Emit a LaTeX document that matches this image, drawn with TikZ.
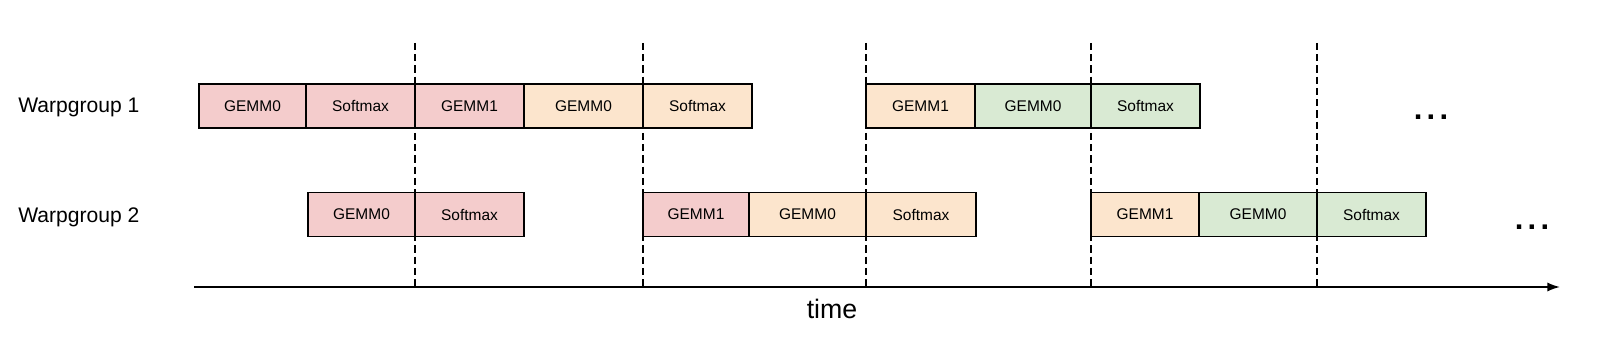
\documentclass[tikz,border=0pt]{standalone}
\usepackage{fontspec}
\setmainfont{Liberation Sans}
\definecolor{wgred}{HTML}{F4CCCC}
\definecolor{wgorange}{HTML}{FCE5CD}
\definecolor{wggreen}{HTML}{D9EAD3}
\usetikzlibrary{positioning,arrows.meta}

\begin{document}
\begin{tikzpicture}[
    x=0.025cm, y=-0.025cm,
    op/.style={draw, line width=0.9pt, outer sep=0pt, inner sep=0pt,
               minimum height=1.1cm, anchor=west,
               font=\fontsize{11}{13}\selectfont},
    iterA/.style={op, fill=wgred},
    iterB/.style={op, fill=wgorange},
    iterC/.style={op, fill=wggreen},
    wide/.style={minimum width=#1*0.025cm},
    wg/.style={anchor=base west, inner sep=0pt, font=\fontsize{15}{18}\selectfont},
    more/.style={inner sep=0pt, font=\fontsize{22}{24}\selectfont\bfseries},
    sync/.style={line width=0.9pt, dash pattern=on 5pt off 3pt},
    axis/.style={-{Latex[length=9pt,width=6.5pt]}, line width=1.2pt},
]
\useasboundingbox (0,0) rectangle (1600,347);

% --- SYNC LINES ---
\foreach \x in {415,643,866,1091,1317}
    \draw[sync] (\x,43) -- (\x,287);

% --- ROW LABELS ---
\node[wg] (wg1) at (18,113) {Warpgroup 1};
\node[wg] (wg2) at (18,223) {Warpgroup 2};

% --- WARPGROUP 1 ---
\node[iterA, wide=107] (a1) at (199,106) {GEMM0};
\node[iterA, wide=109, right=0pt of a1] (a2) {Softmax};
\node[iterA, wide=109, right=0pt of a2] (a3) {GEMM1};
\node[iterB, wide=119, right=0pt of a3] (a4) {GEMM0};
\node[iterB, wide=109, right=0pt of a4] (a5) {Softmax};

\node[iterB, wide=109] (a6) at (866,106) {GEMM1};
\node[iterC, wide=116, right=0pt of a6] (a7) {GEMM0};
\node[iterC, wide=109, right=0pt of a7] (a8) {Softmax};

\node[more] (dots1) at (1431,117) {.\kern3pt.\kern3pt.};

% --- WARPGROUP 2 ---
\node[iterA, wide=107] (b1) at (308,214.5) {GEMM0};
\node[iterA, wide=109, right=0pt of b1] (b2) {Softmax};

\node[iterA, wide=106] (b3) at (643,214.5) {GEMM1};
\node[iterB, wide=117, right=0pt of b3] (b4) {GEMM0};
\node[iterB, wide=110, right=0pt of b4] (b5) {Softmax};

\node[iterB, wide=108] (b6) at (1091,214.5) {GEMM1};
\node[iterC, wide=118, right=0pt of b6] (b7) {GEMM0};
\node[iterC, wide=109, right=0pt of b7] (b8) {Softmax};

\node[more] (dots2) at (1532,227) {.\kern3pt.\kern3pt.};

% --- TIME AXIS ---
\coordinate (t0) at (194,287);
\coordinate (t1) at (1560,287);
\draw[axis] (t0) -- (t1);
\node[font=\fontsize{19}{22}\selectfont] (time) at (832,309) {time};

\end{tikzpicture}
\end{document}
